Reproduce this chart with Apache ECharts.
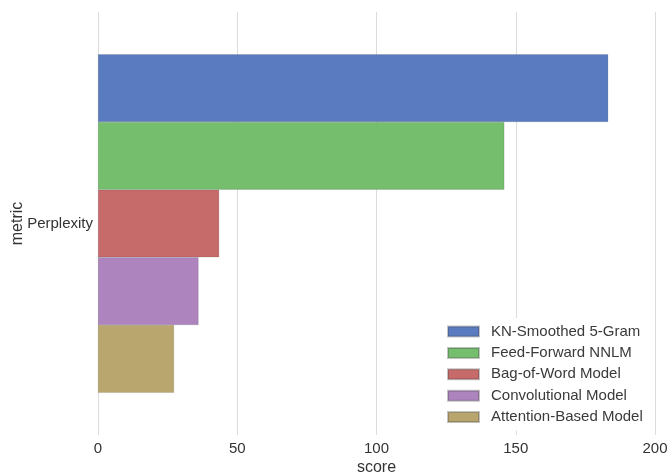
<!DOCTYPE html>
<html>
<head>
<meta charset="utf-8">
<script src="https://cdn.jsdelivr.net/npm/echarts@6/dist/echarts.min.js"></script>
<style>html,body{margin:0;padding:0;background:#fff;}#c{width:670px;height:473px;}</style>
</head>
<body>
<div id="c"></div>
<script>
const categories = ['Perplexity'];
const seriesNames = ['KN-Smoothed 5-Gram', 'Feed-Forward NNLM', 'Bag-of-Word Model', 'Convolutional Model', 'Attention-Based Model'];
const seriesValues = [[183.2], [145.9], [43.5], [36.1], [27.3]];
const xTicks = [0, 50, 100, 150, 200];
const colors = ['#5A7BBF', '#74BE6E', '#C76A6A', '#AE84BE', '#B9A66F'];

const chart = echarts.init(document.getElementById('c'));
const font = 'Liberation Sans, Arial, sans-serif';
chart.setOption({
  animation: false,
  backgroundColor: '#fff',
  grid: { left: 98, right: 15, top: 12, bottom: 38, containLabel: false, outerBoundsMode: 'none' },
  xAxis: {
    type: 'value', min: xTicks[0], max: xTicks[xTicks.length - 1], interval: 50,
    name: 'score', nameLocation: 'middle', nameGap: 25, nameMoveOverlap: false,
    nameTextStyle: { fontSize: 16, color: '#333', fontFamily: font },
    axisLine: { show: false }, axisTick: { show: false },
    axisLabel: { fontSize: 15, color: '#333', fontFamily: font, margin: 6 },
    splitLine: { show: true, lineStyle: { color: '#dcdcdc', width: 1 } }
  },
  yAxis: {
    type: 'category', data: categories, inverse: true,
    name: 'metric', nameLocation: 'middle', nameGap: 72, nameMoveOverlap: false,
    nameTextStyle: { fontSize: 16, color: '#333', fontFamily: font },
    axisLine: { show: false }, axisTick: { show: false },
    axisLabel: { fontSize: 15, color: '#333', fontFamily: font, margin: 5 },
    splitLine: { show: false }
  },
  legend: {
    orient: 'vertical', left: 441, top: 318,
    itemWidth: 31, itemHeight: 10, itemGap: 6.4,
    padding: [6, 8, 6, 6],
    backgroundColor: '#fff', borderWidth: 0,
    textStyle: { fontSize: 15, color: '#3a3a3a', fontFamily: font, padding: [0, 0, 0, 7] },
    icon: 'rect',
    data: seriesNames
  },
  series: seriesNames.map((n, i) => ({
    name: n, type: 'bar', data: seriesValues[i],
    barGap: '0%', barCategoryGap: '20%',
    itemStyle: { color: colors[i], borderColor: 'rgba(60,60,60,0.3)', borderWidth: 0.5 }
  }))
});
</script>
</body>
</html>
